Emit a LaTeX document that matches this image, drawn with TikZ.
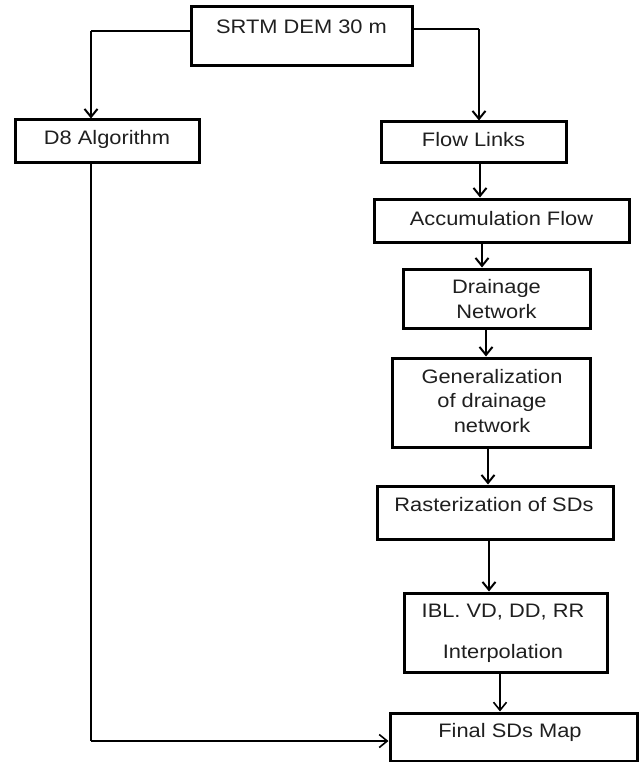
\documentclass[tikz,border=0pt]{standalone}
\usepackage{fontspec}
\setmainfont{Liberation Sans}[FakeStretch=1.12]
\usetikzlibrary{arrows.meta}
\tikzset{
  box/.style={draw=black, line width=3pt, inner sep=0pt},
  txt/.style={font=\fontsize{19.5}{24.5}\selectfont, text=black!88, align=center, inner sep=0pt},
  thickarrow/.style={line width=2.4pt, -{Straight Barb[length=8pt,width=13pt,line width=2pt]}},
  thinarrow/.style={line width=1.3pt, -{Straight Barb[length=8pt,width=13pt,line width=1.6pt]}},
  thinline/.style={line width=1.2pt},
}
\begin{document}
\begin{tikzpicture}[x=1pt,y=-1pt]
\useasboundingbox (0,0) rectangle (638,762);
% boxes
\node[box, minimum width=221pt, minimum height=59pt] (srtm) at (301.5,36.5) {};
\node[txt] (srtmt) at (301.5,27) {SRTM DEM 30 m};
\node[box, minimum width=184pt, minimum height=43pt] (d8) at (107,141.5) {};
\node[txt] (d8t) at (107,139.5) {D8 Algorithm};
\node[box, minimum width=185pt, minimum height=41pt] (flow) at (473.5,142.5) {};
\node[txt] (flowt) at (473.5,139.5) {Flow Links};
\node[box, minimum width=255pt, minimum height=43pt] (acc) at (501.5,220.5) {};
\node[txt] (acct) at (501.5,219) {Accumulation Flow};
\node[box, minimum width=187pt, minimum height=59pt] (drain) at (496.5,298.5) {};
\node[txt] (draint) at (496.5,299) {Drainage\\Network};
\node[box, minimum width=198pt, minimum height=89pt] (gen) at (491,402.5) {};
\node[txt] (gent) at (492,401) {Generalization\\of drainage\\network};
\node[box, minimum width=236pt, minimum height=53pt] (rast) at (495,512.5) {};
\node[txt] (rastt) at (494,505) {Rasterization of SDs};
\node[box, minimum width=203pt, minimum height=79pt] (ibl) at (505.5,632.5) {};
\node[txt] (iblt1) at (503,612) {IBL. VD, DD, RR};
\node[txt] (iblt2) at (503,653) {Interpolation};
\node[box, minimum width=247pt, minimum height=48pt] (final) at (513.5,737) {};
\node[txt] (finalt) at (510,732) {Final SDs Map};
% helper coordinates
\coordinate (cl) at (91,31);
\coordinate (cr) at (479,29);
\coordinate (cb) at (91,741);
% connectors
\draw[thinline] (srtm.west |- cl) -- (cl);
\draw[thickarrow] (cl) -- (cl |- d8.north);
\draw[thinline] (srtm.east |- cr) -- (cr);
\draw[thickarrow] (cr) -- (cr |- flow.north);
\draw[thickarrow] (flow.south -| 480,0) -- (acc.north -| 480,0);
\draw[thickarrow] (acc.south -| 482,0) -- (drain.north -| 482,0);
\draw[thickarrow] (drain.south -| 486,0) -- (gen.north -| 486,0);
\draw[thickarrow] (gen.south -| 488,0) -- (rast.north -| 488,0);
\draw[thickarrow] (rast.south -| 489,0) -- (ibl.north -| 489,0);
\draw[thinarrow] (ibl.south -| 500,0) -- (final.north -| 500,0);
\draw[thinline] (cl |- d8.south) -- (cb);
\draw[thinarrow] (cb) -- (cb -| final.west);
\end{tikzpicture}
\end{document}
